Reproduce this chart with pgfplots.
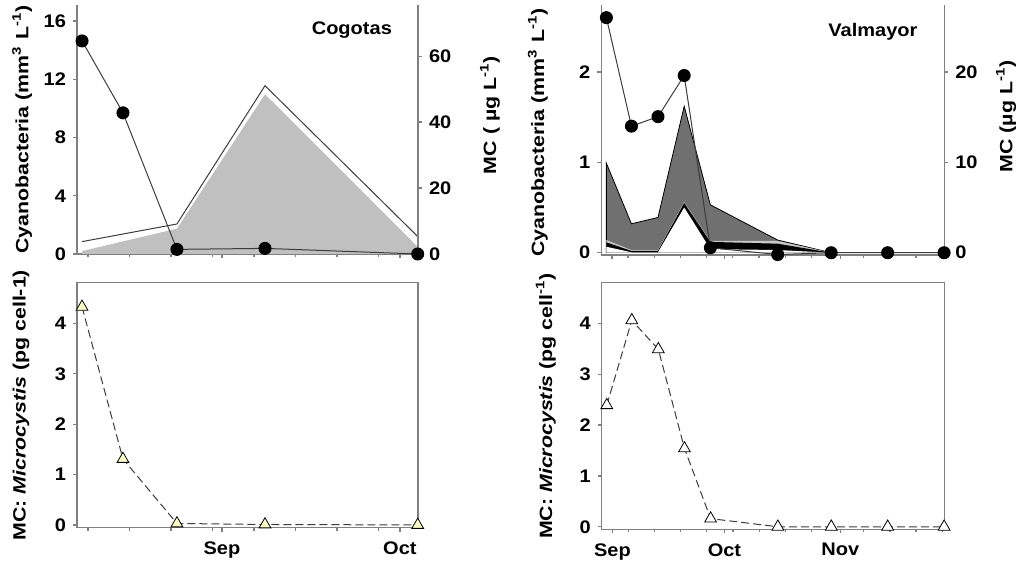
\documentclass[border=0pt]{standalone}
\usepackage{fontspec}
\setmainfont{Liberation Sans}
\newfontfamily\tickf[FakeStretch=1.1]{Liberation Sans}
\newfontfamily\lblf[FakeStretch=1.2]{Liberation Sans}
\usepackage{pgfplots}
\pgfplotsset{compat=1.18}

\definecolor{axgray}{RGB}{128,128,128}
\definecolor{areagray}{RGB}{192,192,192}
\definecolor{darkarea}{RGB}{112,112,112}
\definecolor{lightarea}{RGB}{200,200,200}
\definecolor{lightyellow}{RGB}{255,255,204}
\definecolor{linegray}{RGB}{60,60,60}

\newcommand{\fnt}{\tickf\fontsize{9.1}{10}\selectfont\bfseries}
\newcommand{\lfnt}{\lblf\fontsize{8.9}{11}\selectfont\bfseries}

\pgfplotsset{
  base/.style={scale only axis, clip=false,
    axis line style={axgray, line width=0.6pt},
    every tick/.style={axgray, line width=0.6pt},
    tick align=outside,
    major tick length=2pt, minor tick length=1.6pt,
    /pgf/number format/assume math mode=true,
    tick label style={font=\fnt},
    xticklabel style={yshift=-1.5pt},
    scaled ticks=false,
  },
  leftx/.style={xmin=-24.45, xmax=33.05, xtick={0,30},
    minor xtick={-22.6,-15.6,-8.6,-1.6,5.4,12.4,19.4,26.4}},
  rightx/.style={xmin=-2.86, xmax=88.85, xtick={0,30,61},
    minor xtick={4.3,11.3,18.3,25.3,32.3,39.3,46.3,53.3,67.3,74.3,81.3,88.3}},
}

\begin{document}
\begin{tikzpicture}
\useasboundingbox (0,0) rectangle (512pt,283.5pt);

% ---------------- Top left: Cogotas ----------------
\begin{axis}[base, leftx, at={(38.5pt,156.5pt)}, anchor=south west,
  width=170.5pt, height=124.5pt, ymin=0, ymax=17.1,
  axis x line*=bottom, axis y line*=left,
  ytick={0,4,8,12,16}, xticklabels={}]
  \addplot[fill=areagray, draw=none] coordinates {
    (-23.6,0.2) (-7.6,1.74) (7.25,10.97) (33.0,0.5)} \closedcycle;
  \addplot[linegray, line width=0.5pt] coordinates {
    (-23.6,0.85) (-7.6,2.06) (7.25,11.56) (33.0,1.2)};
  \node[font=\lfnt, rotate=90] at (axis description cs:-0.161,0.5)
    {Cyanobacteria (mm\textsuperscript{3} L\textsuperscript{-1})};
  \node[font=\fnt] at (axis description cs:0.806,0.9) {Cogotas};
\end{axis}
\begin{axis}[base, leftx, at={(38.5pt,156.5pt)}, anchor=south west,
  width=170.5pt, height=124.5pt, ymin=0, ymax=75.5,
  hide x axis, axis y line*=right, ytick={0,20,40,60}]
  \addplot[linegray, line width=0.5pt, mark=*, mark size=3pt,
    mark options={fill=black, draw=black}] coordinates {
    (-23.6,64.6) (-16.7,42.8) (-7.6,1.4) (7.25,1.7) (33.0,0)};
  \node[font=\lfnt, rotate=90] at (axis description cs:1.211,0.558)
    {MC ( µg L\textsuperscript{-1})};
\end{axis}

% ---------------- Top right: Valmayor ----------------
\begin{axis}[base, rightx, at={(300.65pt,156pt)}, anchor=south west,
  width=171.5pt, height=125pt, ymin=-0.025, ymax=2.74,
  axis x line*=bottom, axis y line*=left,
  ytick={0,1,2}, xticklabels={}]
  \addplot[fill=darkarea, draw=none] coordinates {
    (-1.5,0.99) (5.2,0.32) (12.3,0.39) (19.3,1.62) (26.3,0.53) (44.3,0.14) (58.6,0)} \closedcycle;
  \addplot[black, line width=0.4pt] coordinates {
    (-1.5,0) (-1.5,0.99) (5.2,0.32) (12.3,0.39) (19.3,1.62) (26.3,0.53) (44.3,0.14) (58.6,0)};
  \addplot[lightarea, line width=0.6pt] coordinates {(58.6,0) (73.7,0) (88.8,0)};
  \addplot[fill=lightarea, draw=none] coordinates {
    (-1.5,0.14) (5.2,0.03) (12.3,0.03) (19.3,0.56) (26.3,0.13) (44.3,0.13) (58.6,0)} \closedcycle;
  \addplot[fill=black, draw=none] coordinates {
    (-1.5,0.115) (5.2,0.02) (12.3,0.02) (19.3,0.55) (26.3,0.12) (44.3,0.10) (58.6,0)} \closedcycle;
  \addplot[fill=white, draw=none] coordinates {
    (-1.5,0.066) (5.2,0.005) (12.3,0.005) (19.3,0.50) (26.3,0.04) (44.3,0.03) (58.6,0)} \closedcycle;
  \node[font=\lfnt, rotate=90] at (axis description cs:-0.185,0.49)
    {Cyanobacteria (mm\textsuperscript{3} L\textsuperscript{-1})};
  \node[font=\fnt] at (axis description cs:0.792,0.894) {Valmayor};
\end{axis}
\begin{axis}[base, rightx, at={(300.65pt,156pt)}, anchor=south west,
  width=171.5pt, height=125pt, ymin=-0.25, ymax=27.4,
  hide x axis, axis y line*=right, ytick={0,10,20}]
  \addplot[linegray, line width=0.5pt, mark=*, mark size=3pt,
    mark options={fill=black, draw=black}] coordinates {
    (-1.5,26.0) (5.2,14.0) (12.3,15.05) (19.3,19.6) (26.3,0.55) (44.3,-0.2) (58.6,0) (73.7,0) (88.8,0)};
  \node[font=\lfnt, rotate=90] at (axis description cs:1.18,0.554)
    {MC (µg L\textsuperscript{-1})};
\end{axis}

% ---------------- Bottom left ----------------
\begin{axis}[base, leftx, at={(38.5pt,19.65pt)}, anchor=south west,
  width=170.5pt, height=122.5pt, ymin=-0.054, ymax=4.81,
  xtick pos=left, ytick pos=left,
  ytick={0,1,2,3,4}, xticklabels={Sep,Oct}]
  \addplot[linegray, dash pattern=on 4pt off 2pt, line width=0.5pt,
    mark=triangle*, mark size=3.4pt,
    mark options={solid, fill=lightyellow, draw=black, line width=0.4pt}] coordinates {
    (-23.6,4.33) (-16.7,1.31) (-7.6,0.03) (7.25,0.01) (33.0,0.0)};
  \node[font=\lfnt, rotate=90] at (axis description cs:-0.164,0.5)
    {MC: \textit{Microcystis} (pg cell-1)};
\end{axis}

% ---------------- Bottom right ----------------
\begin{axis}[base, rightx, at={(300.85pt,18.85pt)}, anchor=south west,
  width=171.3pt, height=123.3pt, ymin=-0.05, ymax=4.80,
  xtick pos=left, ytick pos=left,
  ytick={0,1,2,3,4}, xticklabels={Sep,Oct,Nov}]
  \addplot[linegray, dash pattern=on 4pt off 2pt, line width=0.5pt,
    mark=triangle*, mark size=3.4pt,
    mark options={solid, fill=white, draw=black, line width=0.4pt}] coordinates {
    (-1.5,2.39) (5.2,4.06) (12.3,3.49) (19.3,1.54) (26.3,0.16) (44.3,0.0) (58.6,0.0) (73.7,0.0) (88.8,0.0)};
  \node[font=\lfnt, rotate=90] at (axis description cs:-0.163,0.5)
    {MC: \textit{Microcystis} (pg cell\textsuperscript{-1})};
\end{axis}
\end{tikzpicture}
\end{document}
